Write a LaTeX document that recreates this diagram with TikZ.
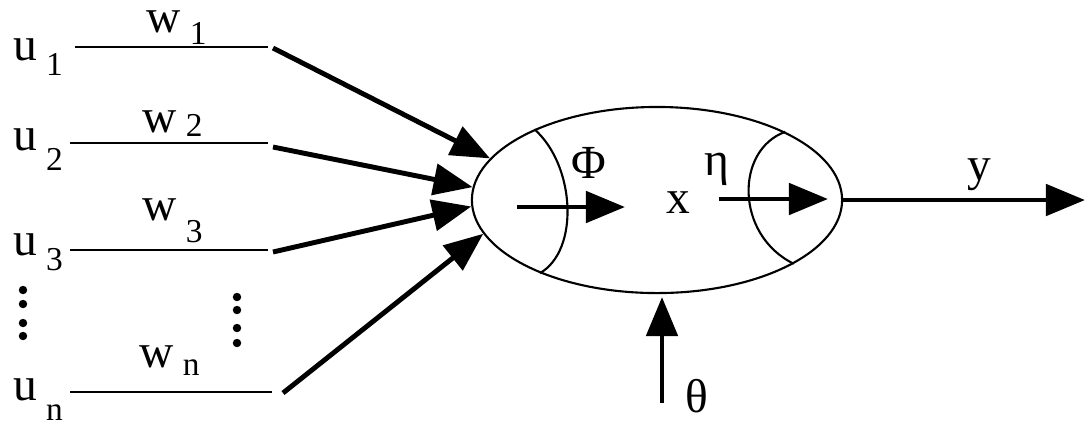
\documentclass[tikz,border=0pt]{standalone}
\usepackage{fontspec}
\setmainfont{Liberation Serif}
\usetikzlibrary{arrows.meta,shapes.geometric}
\newcommand{\subsz}{\fontsize{9.5}{11}\selectfont}
\newcommand{\subtxt}[3]{#1\hspace{2.5pt}\raisebox{-#3}{\subsz #2}}

\begin{document}
\begin{tikzpicture}[x=0.01cm,y=-0.01cm,
    thinline/.style={line width=0.7pt},
    fatarrow/.style={line width=1.4pt,-{Triangle[length=3.9mm,width=3.1mm]}},
    txt/.style={anchor=base west,inner sep=0pt,text height=1.1ex,font=\fontsize{13.5}{16}\selectfont},
    greek/.style={anchor=base,inner sep=0pt,font=\fontsize{13.5}{16}\selectfont},
    dot/.style={circle,fill=black,inner sep=0pt,minimum size=2.4pt}]
    \useasboundingbox (0,0) rectangle (1087,423);
    % the cell
    \node[draw,ellipse,line width=0.6pt,minimum width=3.7cm,minimum height=1.86cm,inner sep=0pt] (cell) at (657,200) {};
    \draw[line width=0.6pt] (cell.150) .. controls (575,165) and (580,250) .. (cell.212);
    \draw[line width=0.6pt] (cell.28) .. controls (735,150) and (735,235) .. (cell.-25);
    % inputs
    \node[txt] (u1) at (13,60) {\subtxt{u}{1}{4.3pt}};
    \node[txt] (u2) at (13,150) {\subtxt{u}{2}{5.7pt}};
    \node[txt] (u3) at (13,255) {\subtxt{u}{3}{4.3pt}};
    \node[txt] (un) at (13,400) {\subtxt{u}{n}{5.7pt}};
    \node[txt] (w1) at (146,32) {\subtxt{w}{1}{3.6pt}};
    \node[txt] (w2) at (142,132) {\subtxt{w}{2}{1.4pt}};
    \node[txt] (w3) at (142,220) {\subtxt{w}{3}{6.3pt}};
    \node[txt] (wn) at (139,367) {\subtxt{w}{n}{2.3pt}};
    \coordinate (l1) at (75,47);   \coordinate (r1) at (268,47);
    \coordinate (l2) at (70,143);  \coordinate (r2) at (268,143);
    \coordinate (l3) at (70,250);  \coordinate (r3) at (268,250);
    \coordinate (ln) at (70,392);  \coordinate (rn) at (272,392);
    \draw[thinline] (l1)--(r1);
    \draw[thinline] (l2)--(r2);
    \draw[thinline] (l3)--(r3);
    \draw[thinline] (ln)--(rn);
    \coordinate (a1) at (273,48);
    \coordinate (a2) at (273,147);
    \coordinate (a3) at (273,252);
    \coordinate (an) at (283,393);
    \draw[fatarrow] (a1)--(cell.166);
    \draw[fatarrow] (a2)--(cell.176);
    \draw[fatarrow] (a3)--(cell.182.5);
    \draw[fatarrow] (an)--(cell.191);
    \node[dot] (dl1) at (23,290) {};
    \node[dot] (dl2) at (23,304) {};
    \node[dot] (dl3) at (23,323) {};
    \node[dot] (dl4) at (23,336) {};
    \node[dot] (dr1) at (237,297) {};
    \node[dot] (dr2) at (237,310) {};
    \node[dot] (dr3) at (237,328) {};
    \node[dot] (dr4) at (237,343) {};
    % inside the cell
    \coordinate (phiA) at (517,207); \coordinate (phiB) at (625,207);
    \coordinate (etaA) at (719,199); \coordinate (etaB) at (828,199);
    \draw[fatarrow] (phiA)--(phiB);
    \draw[fatarrow] (etaA)--(etaB);
    \node[greek] (phi) at (589,178) {Φ};
    \node[greek] (x) at (678,213) {x};
    \node[greek] (eta) at (717,175) {η};
    % output and threshold
    \coordinate (out) at (1085,200);
    \draw[fatarrow] (cell.east)--(out);
    \node[greek] (y) at (979,180) {y};
    \coordinate (thA) at (662,403); \coordinate (thB) at (662,297);
    \draw[fatarrow] (thA)--(thB);
    \node[greek] (theta) at (697,412) {θ};
\end{tikzpicture}
\end{document}
